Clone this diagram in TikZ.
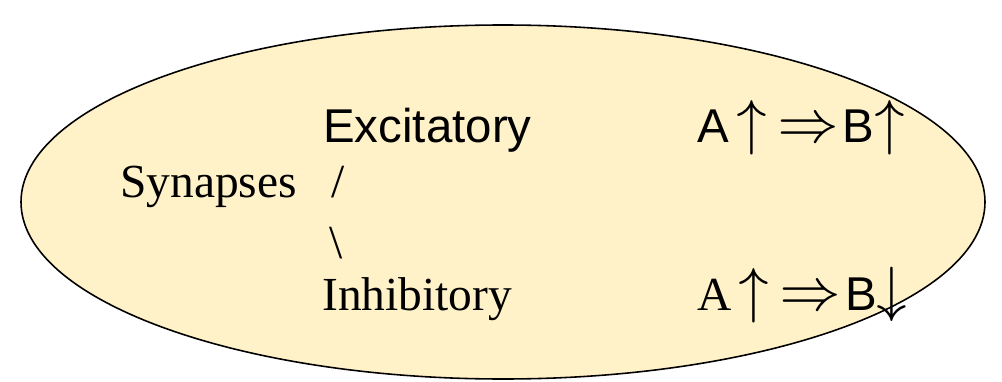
\documentclass[tikz,border=0pt]{standalone}
\usepackage{fontspec}
\setmainfont{Liberation Serif}
\setsansfont{Liberation Sans}
\newfontfamily\arrowfont[Scale=1.3]{latinmodern-math.otf}
\usetikzlibrary{positioning}
\definecolor{cellfill}{RGB}{255,242,200}
\newcommand{\upimplies}{\hspace{4pt}{\arrowfont ↑}\hspace{6pt}{\arrowfont ⇒}\hspace{2pt}}

\begin{document}
\begin{tikzpicture}[x=0.02cm,y=-0.02cm,
	bignode/.style={anchor=base west,inner sep=0pt,font=\fontsize{27}{32}\selectfont},
	sansnode/.style={bignode,font=\fontsize{27}{32}\selectfont\sffamily},
	]
	\useasboundingbox (0,0) rectangle (1002,382);
	% the cell
	\draw[fill=cellfill,line width=0.9pt] (503,202) ellipse [x radius=482, y radius=177];
	% labels
	\node (syn) [bignode] at (120,197) {Synapses};
	\node (up) [bignode] at (331,197) {/};
	\node (down) [bignode] at (329,258) {\textbackslash};
	\node (exc) [sansnode] at (323,142) {Excitatory};
	\node (inh) [bignode] at (322,310) {Inhibitory};
	\node (excrule) [sansnode] at (697,142) {A\upimplies B{\arrowfont ↑}};
	\node (inhrule) [bignode] at (697,310) {A\upimplies{\sffamily B}{\arrowfont ↓}};
\end{tikzpicture}
\end{document}
